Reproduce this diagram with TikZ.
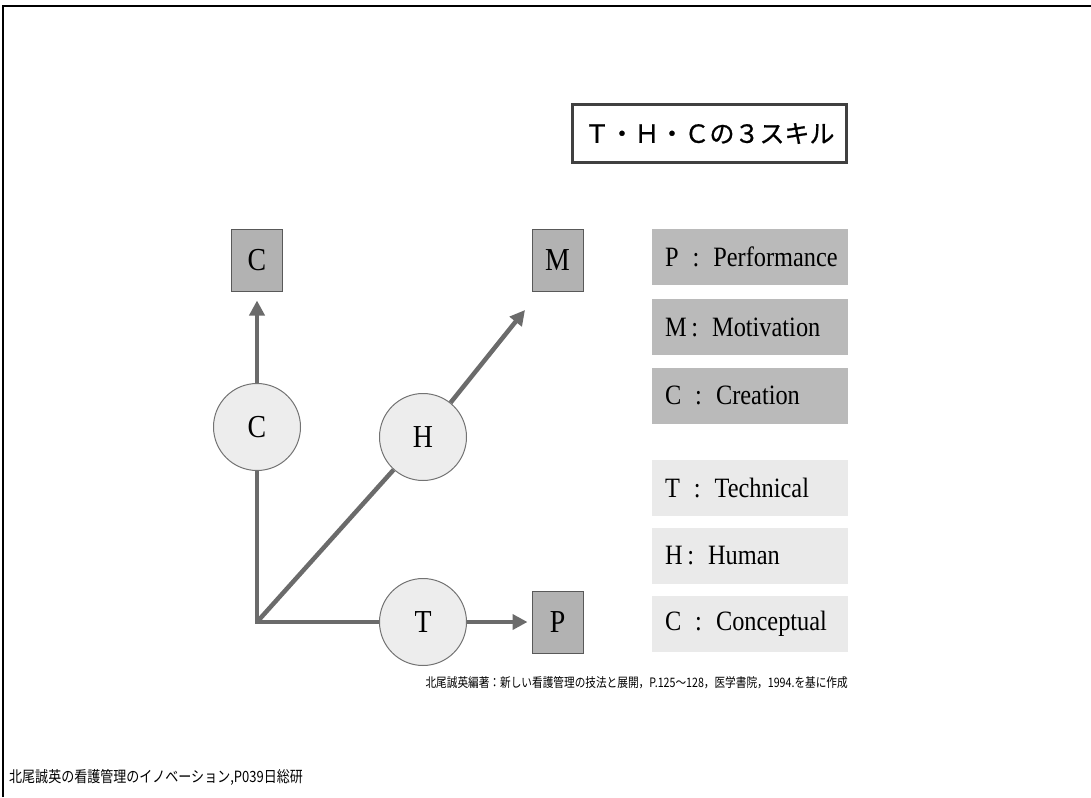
\documentclass[tikz,border=0pt]{standalone}
\usepackage{fontspec}
\setmainfont{Liberation Serif}
\newfontfamily\legfont[FakeStretch=0.87]{Liberation Serif}
\newfontfamily\cjk[FakeBold=0.8]{Noto Sans CJK JP}
\newfontfamily\cjkn[FakeStretch=0.82]{Noto Sans CJK JP}
\newfontfamily\cjkm[FakeStretch=0.84]{Noto Sans CJK JP}
\usetikzlibrary{arrows.meta}
\definecolor{linegray}{HTML}{6B6B6B}
\definecolor{boxgray}{HTML}{B2B2B2}
\definecolor{leggray}{HTML}{BABABA}
\definecolor{leglight}{HTML}{EAEAEA}
\definecolor{circfill}{HTML}{EDEDED}
\begin{document}
\begin{tikzpicture}[x=1pt,y=-1pt,
  sq/.style={draw=black!65, fill=boxgray, line width=1pt, minimum width=51pt, minimum height=62pt, inner sep=0pt, font=\legfont\fontsize{32}{32}\selectfont},
  circ/.style={circle, draw=black!55, fill=circfill, line width=1pt, minimum size=87pt, inner sep=0pt, font=\legfont\fontsize{32}{32}\selectfont},
  legd/.style={fill=leggray, minimum width=196pt, minimum height=56pt, inner xsep=13pt, inner ysep=0pt, text width=170pt, align=left, font=\legfont\fontsize{28}{28}\selectfont},
  legl/.style={legd, fill=leglight},
  ln/.style={line width=4.5pt, draw=linegray, line join=miter},
  arr/.style={ln, -{Triangle[length=15pt,width=15pt]}}
]
\useasboundingbox (0,0) rectangle (1091,797);
\draw[line width=2.5pt] (3,797) -- (3,6) -- (1091,6);

% title
\node[draw=black!75, line width=3pt, minimum width=274pt, minimum height=58pt, inner sep=0pt] (title) at (709.5,133.5)
  {\cjk\fontsize{25}{25}\selectfont Ｔ・Ｈ・Ｃの３スキル};

% boxes
\node[sq] (Cb) at (257,260) {C};
\node[sq] (Mb) at (557.5,260) {M};
\node[sq] (Pb) at (557.5,622) {P};

% circles
\node[circ] (Cc) at (257,427) {C};
\node[circ] (Hc) at (423,437) {H};
\node[circ] (Tc) at (423,622) {T};
\coordinate (O) at (257,622);
\coordinate (Mtip) at (525,310);

% connectors
\draw[ln] (Cc.south) -- (O) -- (Tc.west);
\draw[ln] (O) -- (Hc);
\draw[arr, shorten >=9pt] (Cc.north) -- (Cb.south);
\draw[arr] (Hc) -- (Mtip);
\draw[arr, shorten >=4pt] (Tc.east) -- (Pb.west);

% legend
\node[legd] (L1) at (750,257) {P\enspace:\enspace Performance};
\node[legd] (L2) at (750,327) {M\,:\enspace Motivation};
\node[legd] (L3) at (750,395.5) {C\enspace:\enspace Creation};
\node[legl] (L4) at (750,487.5) {T\enspace:\enspace Technical};
\node[legl] (L5) at (750,556) {H\,:\enspace Human};
\node[legl] (L6) at (750,624) {C\enspace:\enspace Conceptual};

% citations
\node[anchor=east, inner sep=0pt] (cite) at (848,683)
  {\cjkn\fontsize{13}{13}\selectfont 北尾誠英編著：新しい看護管理の技法と展開，P.125～128，医学書院，1994.を基に作成};
\node[anchor=west, inner sep=0pt] (src) at (9,777)
  {\cjkm\fontsize{15.5}{15.5}\selectfont 北尾誠英の看護管理のイノベーション,P039日総研};
\end{tikzpicture}
\end{document}
